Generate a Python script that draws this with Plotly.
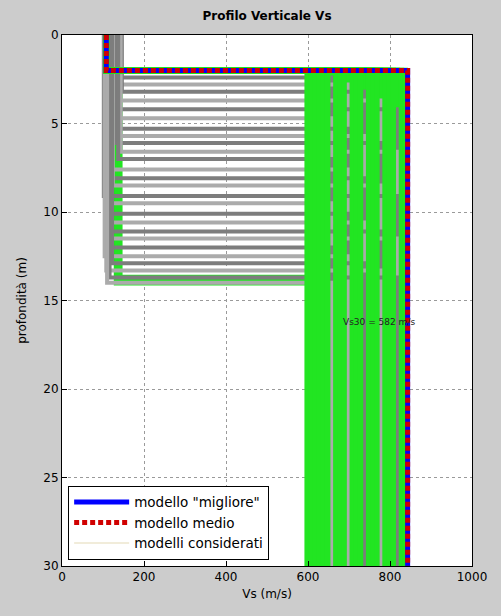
import plotly.graph_objects as go

# Profondità massima del profilo (m)
Z_MAX = 30.0

# Modelli considerati, nell'ordine in cui vengono tracciati (due strati: Vs1 fino a h1, Vs2 sotto)
vs1_mod = [133, 141, 108, 108, 108, 108, 108,
           128, 118, 146, 106, 136, 112, 140, 122, 132, 143, 137, 116, 108,
           124, 102, 114, 110, 120, 106, 118, 112, 104, 122, 108, 116, 110,
           108, 108, 108, 108, 108, 108, 108, 108, 108, 108, 108, 108, 108, 108,
           108, 108, 108, 108, 108, 108]
h1_mod = [14.0, 13.7, 2.0, 2.0, 2.0, 2.0, 2.0,
          2.4, 2.8, 3.2, 3.7, 4.2, 4.7, 5.3, 5.7, 6.1, 6.6, 7.0, 7.6, 8.1,
          8.5, 9.1, 9.5, 10.1, 10.6, 11.1, 11.5, 12.0, 12.5, 12.9, 13.3, 13.7, 14.0,
          2.0, 2.0, 2.0, 2.0, 2.0, 2.0, 2.0, 2.0, 2.0, 2.0, 2.0, 2.0, 2.0, 2.0,
          2.0, 2.0, 2.0, 2.0, 2.0, 2.0]
vs2_mod = [605, 640, 658, 698, 738, 778, 818,
           658, 698, 738, 778, 818, 658, 698, 738, 778, 818, 658, 698, 738,
           778, 818, 658, 698, 738, 778, 818, 658, 698, 738, 778, 818, 658,
           598, 608, 618, 628, 638, 648, 668, 678, 688, 708, 718, 728, 748, 758,
           768, 788, 798, 808, 828, 837]
colore_mod = ["verde"] * 7 + ["grigio_s", "grigio_c"] * 13 + ["verde"] * 20

# Modello "migliore" e modello medio
vs_migliore = [108, 843]
h_migliore = 2.0
vs_medio = [108, 843]
h_medio = 2.0

vs30_testo = "Vs30 = 582 m/s"

COLORI = {"verde": "#22e522", "grigio_s": "#7d7d7d", "grigio_c": "#ababab"}
SPESSORI = {"verde": 5.5, "grigio_s": 4, "grigio_c": 4}
FONT = "DejaVu Sans"


def gradini(vs, h):
    return [vs[0], vs[0], vs[1], vs[1]], [0, h, h, Z_MAX]


fig = go.Figure()

for v1, h, v2, c in zip(vs1_mod, h1_mod, vs2_mod, colore_mod):
    xs, ys = gradini([v1, v2], h)
    fig.add_trace(go.Scatter(x=xs, y=ys, mode="lines", showlegend=False,
                             hoverinfo="skip",
                             line=dict(color=COLORI[c], width=SPESSORI[c])))

xs, ys = gradini(vs_migliore, h_migliore)
fig.add_trace(go.Scatter(x=xs, y=ys, mode="lines", name='modello "migliore"',
                         line=dict(color="#0000ff", width=5)))
xs, ys = gradini(vs_medio, h_medio)
fig.add_trace(go.Scatter(x=xs, y=ys, mode="lines", name="modello medio",
                         line=dict(color="#d00000", width=5, dash="5px,3px")))
# voce di legenda per i modelli considerati
fig.add_trace(go.Scatter(x=[None], y=[None], mode="lines", name="modelli considerati",
                         line=dict(color="#f1ecda", width=2)))

fig.add_annotation(x=680, y=16.2, text=vs30_testo, showarrow=False,
                   xanchor="left", yanchor="middle",
                   font=dict(size=9, color="#222222", family=FONT))

asse = dict(showline=True, linecolor="black", linewidth=1, mirror=True,
            ticks="inside", ticklen=5, tickcolor="black",
            showgrid=True, gridcolor="#9a9a9a", griddash="dot", gridwidth=1,
            zeroline=False, tickfont=dict(size=12, color="black", family=FONT))

fig.update_layout(
    width=501, height=616,
    margin=dict(l=62, r=29, t=35, b=50),
    paper_bgcolor="#cccccc", plot_bgcolor="white",
    font=dict(family=FONT, color="black"),
    title=dict(text="<b>Profilo Verticale Vs</b>", x=0.533, xanchor="center",
               y=0.974, yanchor="middle", font=dict(size=12, family=FONT)),
    xaxis=dict(range=[0, 1000], tickvals=[0, 200, 400, 600, 800, 1000],
               title=dict(text="Vs (m/s)", font=dict(size=12), standoff=6), **asse),
    yaxis=dict(range=[Z_MAX, 0], tickvals=[0, 5, 10, 15, 20, 25, 30],
               title=dict(text="profondità (m)", font=dict(size=12), standoff=14), **asse),
    legend=dict(x=0.015, y=0.012, xanchor="left", yanchor="bottom",
                bgcolor="white", bordercolor="black", borderwidth=1,
                itemwidth=55, font=dict(size=13.5, family=FONT), tracegroupgap=0),
)

fig.write_html("out.html")
